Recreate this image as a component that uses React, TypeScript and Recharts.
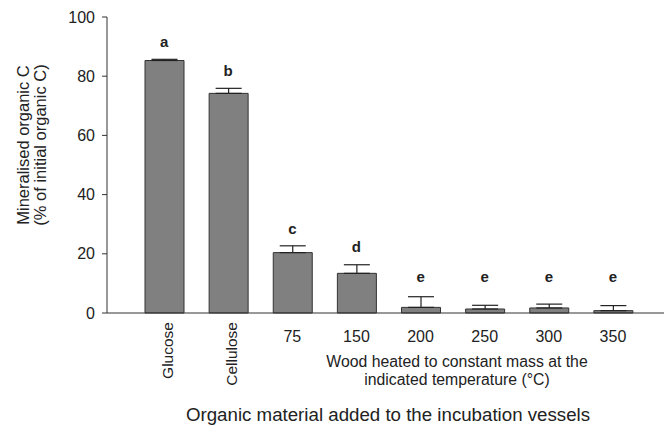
import React from 'react';
import {
	Bar,
	ComposedChart,
	ErrorBar,
	LabelList,
	Line,
	XAxis,
	YAxis,
	Label,
} from 'recharts';

const categories = ['Glucose', 'Cellulose', '75', '150', '200', '250', '300', '350'];
const mineralised = [85.3, 74.2, 20.4, 13.4, 1.9, 1.35, 1.7, 0.8];
const errors = [0.4, 1.7, 2.3, 2.9, 3.6, 1.25, 1.3, 1.7];
const letters = ['a', 'b', 'c', 'd', 'e', 'e', 'e', 'e'];
const yTicks = [0, 20, 40, 60, 80, 100];

const FONT = '"Liberation Sans", Arial, sans-serif';
const INK = '#222';

const data = categories.map((name, i) => ({
	name,
	value: mineralised[i],
	err: [0, errors[i]],
	letter: letters[i],
	letterY: Math.max(mineralised[i] + errors[i], 6.5) + 6,
}));

const XTick = (props: any) => {
	const { x, y, payload } = props;
	if (payload.index < 2) {
		return (
			<text
				transform={`translate(${x + 8.5},${y + 9}) rotate(-90)`}
				textAnchor='end'
				fontSize={15.5}
				fontFamily={FONT}
				fill={INK}
			>
				{payload.value}
			</text>
		);
	}
	return (
		<text x={x} y={y + 29} textAnchor='middle' fontSize={16} fontFamily={FONT} fill={INK}>
			{payload.value}
		</text>
	);
};

const XTitles = () => (
	<g fontFamily={FONT} fill={INK}>
		<text x={457} y={367} textAnchor='middle' fontSize={15.8}>
			Wood heated to constant mass at the
		</text>
		<text x={457} y={385} textAnchor='middle' fontSize={15.8}>
			indicated temperature (°C)
		</text>
		<text x={388} y={421} textAnchor='middle' fontSize={18.7}>
			Organic material added to the incubation vessels
		</text>
	</g>
);

const YTitle = () => (
	<g fontFamily={FONT} fill={INK} fontSize={16.5}>
		<text transform='translate(29,145) rotate(-90)' textAnchor='middle'>
			Mineralised organic C
		</text>
		<text transform='translate(46,145) rotate(-90)' textAnchor='middle'>
			(% of initial organic C)
		</text>
	</g>
);

const LetterLabel = (props: any) => {
	const { x, y, value } = props;
	return (
		<text
			x={x}
			y={y}
			textAnchor='middle'
			dominantBaseline='central'
			fontSize={15}
			fontWeight='bold'
			fontFamily={FONT}
			fill={INK}
		>
			{value}
		</text>
	);
};

export default function App() {
	return (
		<div style={{ position: 'absolute', left: 0, top: 0, background: '#fff' }}>
			<ComposedChart
				width={664}
				height={429}
				data={data}
				margin={{ top: 17, right: 0, left: 0, bottom: 0 }}
			>
				<XAxis
					dataKey='name'
					height={116}
					padding={{ left: 25, right: 19 }}
					tickLine={false}
					tickSize={0}
					tickMargin={0}
					interval={0}
					stroke='#333'
					tick={<XTick />}
				>
					<Label content={<XTitles />} />
				</XAxis>
				<YAxis
					width={107}
					domain={[0, 100]}
					ticks={yTicks}
					tickSize={5}
					tickMargin={7}
					stroke='#333'
					tick={{ fontSize: 16, fontFamily: FONT, fill: INK }}
				>
					<Label content={<YTitle />} />
				</YAxis>
				<Bar
					dataKey='value'
					barSize={39}
					fill='#808080'
					stroke='#333'
					strokeWidth={1}
					isAnimationActive={false}
				>
					<ErrorBar dataKey='err' width={13} stroke='#222' strokeWidth={1.2} direction='y' />
				</Bar>
				<Line
					dataKey='letterY'
					stroke='none'
					dot={false}
					activeDot={false}
					isAnimationActive={false}
				>
					<LabelList dataKey='letter' content={<LetterLabel />} />
				</Line>
			</ComposedChart>
		</div>
	);
}
